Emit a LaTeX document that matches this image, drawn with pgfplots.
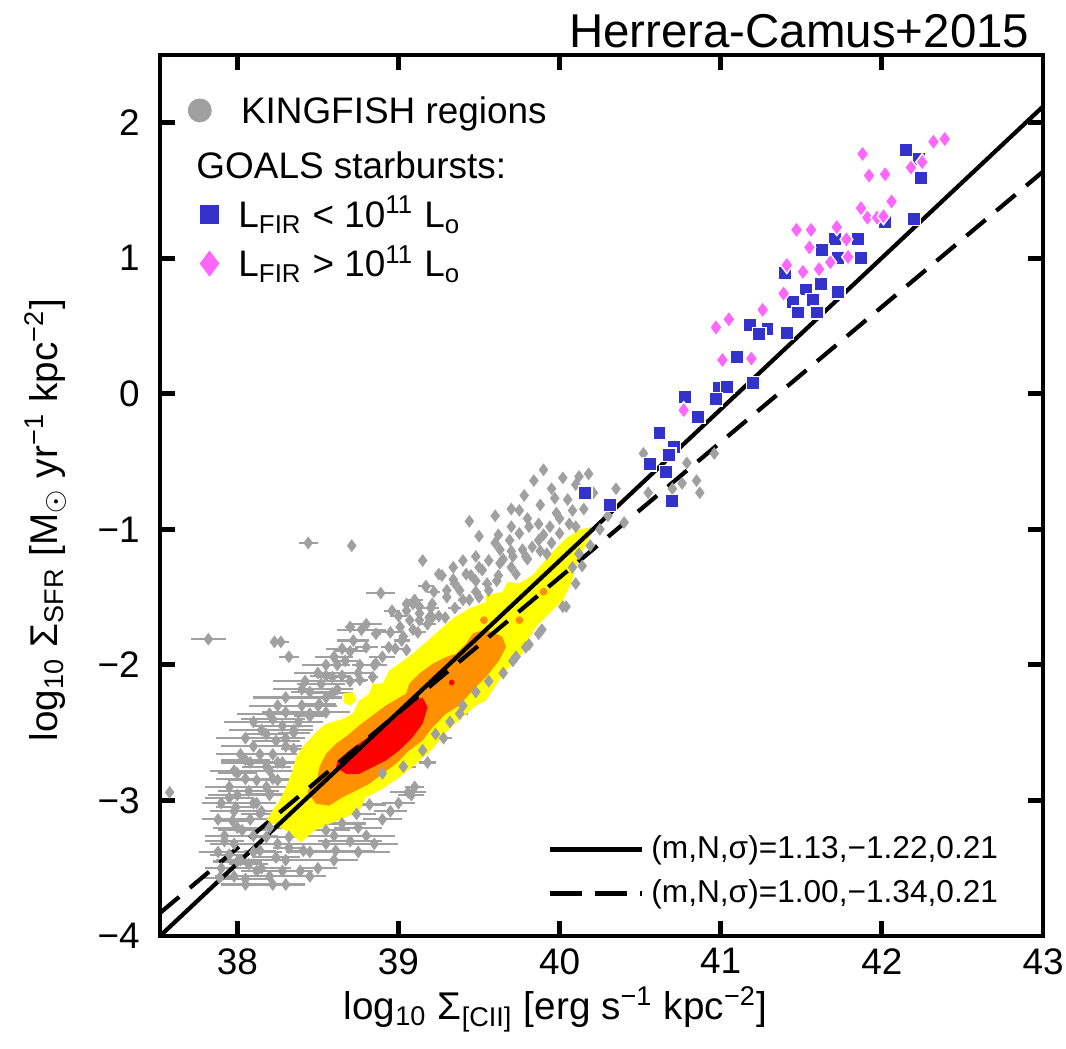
\documentclass[border=0pt]{standalone}
\usepackage{pgfplots}
\pgfplotsset{compat=1.18}
\usepackage{pgfplotstable}
\usepackage{fontspec}
\setmainfont{Liberation Sans}
\definecolor{kgrey}{RGB}{160,160,160}
\definecolor{gblue}{RGB}{51,51,204}
\definecolor{gpink}{RGB}{255,102,255}
\definecolor{cyel}{RGB}{255,255,0}
\definecolor{corange}{RGB}{255,145,0}
\definecolor{cred}{RGB}{255,0,0}

\pgfplotstableread{
x y ex
38.28 -2.45 0.19
38.18 -2.51 0.13
38.24 -2.56 0.15
38.14 -2.66 0.16
38.18 -2.75 0.15
38.12 -2.85 0.18
38.07 -2.93 0.19
37.58 -2.94 0.02
37.99 -3.05 0.12
38.14 -3.10 0.12
37.97 -3.15 0.10
38.03 -3.22 0.15
37.95 -3.40 0.12
38.07 -3.47 0.12
37.89 -3.57 0.10
38.05 -3.58 0.15
38.28 -3.52 0.15
38.39 -3.52 0.08
38.24 -3.42 0.15
38.32 -3.35 0.10
38.61 -3.37 0.24
38.70 -3.30 0.20
38.55 -3.22 0.15
38.65 -3.17 0.15
38.74 -3.10 0.12
38.82 -3.03 0.10
39.06 -2.94 0.11
38.90 -2.80 0.10
39.03 -2.75 0.08
38.18 -3.27 0.10
38.32 -3.27 0.10
38.41 -3.37 0.10
38.14 -3.37 0.10
38.30 -2.35 0.15
38.40 -2.30 0.12
38.22 -2.40 0.20
38.35 -2.62 0.08
38.05 -2.70 0.15
38.00 -2.80 0.12
37.95 -2.98 0.15
38.10 -3.02 0.10
38.20 -2.95 0.12
38.25 -2.85 0.10
38.28 -2.72 0.10
38.45 -2.20 0.12
38.55 -2.08 0.10
38.62 -2.00 0.08
38.70 -1.90 0.10
38.45 -2.38 0.10
38.35 -2.50 0.10
37.92 -3.30 0.12
38.00 -3.45 0.15
38.22 -3.62 0.10
38.12 -3.52 0.10
37.82 -1.81 0.11
38.44 -1.10 0.06
38.71 -1.12 0
38.89 -1.47 0.09
39.15 -1.23 0
39.17 -1.42 0.05
38.27 -1.83 0.05
38.23 -1.83 0.02
38.32 -1.94 0.06
39.27 -1.34 0
39.34 -1.37 0
39.30 -1.45 0
38.96 -1.60 0.05
39.09 -1.55 0
39.05 -1.55 0
38.70 -1.72 0.03
38.77 -1.74 0.15
38.86 -1.77 0.03
39.01 -1.72 0
39.13 -1.62 0
39.21 -1.65 0
39.29 -1.65 0
38.80 -1.87 0.07
38.94 -1.87 0.05
39.05 -1.89 0.03
38.67 -1.97 0.08
38.76 -2.00 0.05
38.86 -1.99 0.03
38.59 -2.09 0.10
38.65 -2.08 0.05
38.52 -2.14 0.15
38.76 -2.11 0.05
38.84 -2.09 0.03
38.59 -2.21 0.12
38.51 -2.29 0.10
38.55 -2.35 0.15
39.15 -2.63 0.05
39.23 -2.51 0
39.32 -2.42 0.04
39.40 -2.30 0
39.48 -2.20 0
39.56 -2.12 0
39.65 -2.06 0
39.73 -1.94 0
39.81 -1.85 0
39.89 -1.74 0
40.02 -1.57 0
40.10 -1.40 0
40.14 -1.27 0
40.19 -1.12 0
39.87 -1.77 0
39.79 -1.87 0
39.71 -1.97 0
39.44 -0.94 0
39.50 -1.05 0
39.69 -1.08 0
39.75 -1.03 0
39.81 -0.98 0
39.87 -0.96 0
39.94 -0.98 0
40.00 -1.03 0
40.06 -0.96 0
39.63 -1.15 0
39.56 -1.23 0
39.63 -1.25 0
39.71 -1.20 0
39.77 -1.15 0
39.83 -1.13 0
39.87 -1.08 0
39.92 -1.18 0
39.48 -1.20 0
39.40 -1.23 0
39.34 -1.28 0
39.25 -1.33 0
39.17 -1.42 0.04
39.42 -1.33 0
39.48 -1.38 0
39.52 -1.30 0
39.61 -1.38 0
39.38 -1.45 0
39.30 -1.50 0
39.21 -1.55 0
39.13 -1.57 0
39.05 -1.60 0
39.07 -1.67 0
39.13 -1.67 0
39.19 -1.65 0
39.09 -1.74 0
39.03 -1.79 0
39.44 -1.52 0
39.50 -1.50 0
39.56 -1.45 0
39.79 -1.20 0
39.73 -1.33 0
40.12 -1.18 0
40.08 -1.28 0
40.04 -1.57 0
39.90 -0.56 0
39.84 -0.64 0
39.95 -0.70 0
39.78 -0.75 0
39.70 -0.85 0
39.60 -0.90 0
40.02 -0.62 0
39.88 -0.82 0
40.52 -0.44 0
40.18 -0.59 0
40.12 -0.61 0
40.10 -0.67 0
40.21 -0.73 0
40.85 -0.64 0
40.87 -0.73 0
40.96 -0.44 0
40.79 -0.51 0
40.76 -0.66 0
40.70 -0.70 0
40.55 -0.73 0
40.68 -0.80 0
39.97 -0.77 0
40.05 -0.78 0
40.40 -0.95 0
40.30 -0.90 0
40.25 -1.00 0
39.98 -0.88 0
40.15 -0.85 0
40.35 -0.70 0
38.05 -3.62 0.15
38.30 -3.62 0.12
37.98 -3.56 0.12
38.20 -3.56 0.15
38.45 -3.56 0.10
37.90 -3.50 0.10
38.15 -3.50 0.18
38.50 -3.50 0.12
38.02 -3.44 0.15
38.30 -3.44 0.20
38.60 -3.44 0.15
37.88 -3.38 0.12
38.10 -3.38 0.18
38.45 -3.38 0.15
38.75 -3.38 0.20
37.98 -3.32 0.15
38.25 -3.32 0.18
38.55 -3.32 0.20
38.85 -3.32 0.15
37.92 -3.26 0.12
38.10 -3.26 0.15
38.60 -3.26 0.20
38.80 -3.26 0.18
38.00 -3.20 0.15
38.20 -3.20 0.12
38.75 -3.20 0.15
37.88 -3.14 0.10
38.08 -3.14 0.12
38.90 -3.14 0.12
37.98 -3.08 0.15
38.15 -3.08 0.10
38.95 -3.08 0.10
37.90 -3.02 0.12
38.12 -3.02 0.12
39.00 -3.02 0.10
38.00 -2.96 0.18
38.20 -2.96 0.10
39.08 -2.96 0.08
37.95 -2.90 0.15
38.18 -2.90 0.12
39.10 -2.90 0.06
38.05 -2.84 0.18
38.22 -2.84 0.10
37.98 -2.78 0.15
38.20 -2.78 0.15
38.08 -2.72 0.18
38.25 -2.72 0.10
39.18 -2.72 0.05
38.02 -2.66 0.15
38.22 -2.66 0.15
38.10 -2.60 0.20
38.30 -2.60 0.10
38.05 -2.54 0.18
38.30 -2.54 0.12
39.28 -2.54 0.05
38.15 -2.48 0.20
38.35 -2.48 0.12
38.10 -2.42 0.18
38.38 -2.42 0.15
38.20 -2.36 0.20
38.45 -2.36 0.12
39.38 -2.36 0.05
38.25 -2.30 0.18
38.50 -2.30 0.12
38.30 -2.24 0.20
38.55 -2.24 0.10
38.40 -2.18 0.18
38.62 -2.18 0.10
38.42 -2.12 0.20
38.70 -2.12 0.10
38.50 -2.06 0.15
38.75 -2.06 0.10
38.55 -2.00 0.15
38.85 -2.00 0.08
38.60 -1.94 0.12
38.90 -1.94 0.08
38.65 -1.88 0.10
38.98 -1.88 0.06
38.72 -1.82 0.10
39.02 -1.82 0.05
38.95 -1.76 0.08
39.12 -1.76 0.05
38.80 -1.70 0.10
39.18 -1.70 0.05
39.00 -1.64 0.05
39.25 -1.64 0.04
39.20 -1.58 0.05
39.35 -1.58 0.04
39.10 -1.52 0.05
39.40 -1.52 0.03
39.22 -1.46 0.04
39.48 -1.46 0.03
39.35 -1.40 0.03
39.55 -1.40 0.03
39.45 -1.34 0.03
39.62 -1.34 0.02
39.50 -1.28 0
39.70 -1.28 0
39.65 -1.22 0
39.80 -1.22 0
39.70 -1.16 0
39.88 -1.16 0
39.60 -1.10 0
39.95 -1.10 0
39.62 -1.04 0
39.90 -1.04 0
39.70 -0.98 0
40.10 -0.98 0
39.80 -0.92 0
40.00 -0.92 0
39.75 -0.86 0
40.08 -0.86 0
}\greydata

\begin{document}
\begin{tikzpicture}
\useasboundingbox (-16mm,-11.3mm) rectangle (90.6mm,93.6mm);
\begin{axis}[
  at={(0,0)}, anchor=south west,
  width=88.3mm, height=88.1mm, scale only axis,
  xmin=37.52, xmax=43, ymin=-4, ymax=2.5,
  xtick={38,39,40,41,42,43}, ytick={-4,-3,-2,-1,0,1,2},
  xticklabels={38,39,40,41,42,43},
  yticklabels={−4,−3,−2,−1,0,1,2},
  axis line style={line width=1.4pt},
  tick style={line width=1.4pt, black},
  major tick length=1.5mm,
  tick align=inside,
  ticklabel style={font=\fontsize{10.5}{12}\selectfont},
  yticklabel style={xshift=-0.8mm},
  label style={font=\fontsize{11}{13}\selectfont},
  xlabel={log\textsubscript{10} Σ\textsubscript{[CII]} [erg s\textsuperscript{−1} kpc\textsuperscript{−2}]},
  ylabel={log\textsubscript{10} Σ\textsubscript{SFR} [M\textsubscript{$\odot$} yr\textsuperscript{−1} kpc\textsuperscript{−2}]},
  xlabel style={at={(axis description cs:0.448,-0.095)}, anchor=base},
  ylabel style={at={(axis description cs:-0.13,0.472)}, anchor=center},
  legend style={at={(rel axis cs:0.0213,0.897)}, anchor=north west, draw=none, fill=none,
    font=\fontsize{10.5}{12}\selectfont, row sep=1.2mm, inner sep=0pt,
    nodes={inner sep=0pt}},
  legend cell align=left,
]
\addplot[only marks, mark=diamond*, mark size=1.5pt, color=kgrey, forget plot,
  error bars/.cd, x dir=both, x explicit, error mark=none,
  error bar style={kgrey, line width=0.6pt}]
  table[x=x, y=y, x error=ex] {\greydata};

% density contours
\addplot[fill=cyel, draw=none, forget plot] coordinates {
(38.178,-3.149) (38.302,-3.222) (38.395,-3.309) (38.478,-3.222) (38.571,-3.173)
(38.674,-3.124) (38.757,-3.075) (38.798,-2.976) (38.901,-2.914) (39.005,-2.829)
(39.109,-2.730) (39.212,-2.619) (39.295,-2.496) (39.398,-2.385) (39.481,-2.300)
(39.543,-2.262) (39.625,-2.114) (39.687,-2.015) (39.770,-1.917) (39.801,-1.818)
(39.853,-1.720) (39.935,-1.621) (40.018,-1.523) (40.070,-1.399) (40.101,-1.276)
(40.142,-1.166) (40.184,-1.055) (40.215,-0.981)
(40.122,-1.000) (40.039,-1.067) (39.956,-1.166) (39.894,-1.252) (39.832,-1.338)
(39.749,-1.399) (39.677,-1.387) (39.646,-1.461) (39.543,-1.486) (39.543,-1.535)
(39.439,-1.584) (39.336,-1.658) (39.253,-1.744) (39.171,-1.831) (39.088,-1.917)
(39.005,-1.991) (38.943,-2.040) (38.901,-2.138) (38.839,-2.138) (38.819,-2.212)
(38.757,-2.262) (38.715,-2.360) (38.653,-2.400) (38.550,-2.434) (38.488,-2.496)
(38.405,-2.607) (38.364,-2.681) (38.343,-2.779) (38.302,-2.903) (38.261,-3.001)
(38.219,-3.075)} -- cycle;
\addplot[fill=cyel, draw=none, forget plot] coordinates {
(38.66,-2.21) (38.72,-2.20) (38.74,-2.26) (38.70,-2.30) (38.66,-2.28)} -- cycle;
\addplot[fill=corange, draw=none, forget plot] coordinates {
(38.436,-2.939) (38.488,-3.025) (38.571,-3.038) (38.653,-2.976) (38.736,-2.927)
(38.819,-2.877) (38.901,-2.803) (38.984,-2.730) (39.067,-2.631) (39.150,-2.557)
(39.212,-2.459) (39.295,-2.360) (39.377,-2.300) (39.460,-2.188) (39.543,-2.089)
(39.625,-1.966) (39.667,-1.868) (39.646,-1.794) (39.584,-1.757) (39.522,-1.744)
(39.460,-1.769) (39.419,-1.843) (39.357,-1.917) (39.295,-1.942) (39.212,-1.991)
(39.129,-2.064) (39.067,-2.138) (39.047,-2.212) (38.922,-2.299) (38.839,-2.373)
(38.757,-2.446) (38.684,-2.520) (38.612,-2.582) (38.550,-2.656) (38.509,-2.755)
(38.498,-2.829) (38.447,-2.903)} -- cycle;
\addplot[only marks, mark=*, mark size=0.9pt, color=corange, forget plot] coordinates {
(39.53,-1.67) (39.75,-1.67) (39.90,-1.46)};
\addplot[fill=cred, draw=none, forget plot] coordinates {
(38.622,-2.705) (38.695,-2.631) (38.798,-2.545) (38.901,-2.459) (39.005,-2.360)
(39.067,-2.274) (39.150,-2.242) (39.181,-2.311) (39.150,-2.434) (39.088,-2.533)
(39.005,-2.631) (38.922,-2.705) (38.839,-2.755) (38.757,-2.803) (38.674,-2.803)
(38.612,-2.755)} -- cycle;
\addplot[only marks, mark=*, mark size=0.6pt, color=cred, forget plot] coordinates {(39.33,-2.13)};

% fits
\addplot[black, line width=1.2pt, forget plot] coordinates {(37.52,-4.0) (43,2.12)};
\addplot[black, line width=1.2pt, dash pattern=on 2.5mm off 1.4mm, forget plot] coordinates {(37.52,-3.83) (43,1.64)};

% GOALS
\addplot[only marks, mark=square*, mark size=1.9pt, forget plot,
  mark options={fill=gblue, draw=white, line width=0.4pt}] coordinates {
(42.15,1.80) (42.23,1.73) (42.24,1.59) (42.20,1.29) (42.02,1.27) (41.85,1.14) (41.71,1.14)
(41.87,1.00) (41.63,1.06) (41.73,1.00) (41.40,0.89) (41.62,0.81) (41.73,0.75)
(41.53,0.77) (41.45,0.68) (41.57,0.69) (41.48,0.60) (41.60,0.60) (41.18,0.51)
(41.29,0.48) (41.41,0.45) (41.24,0.44) (41.10,0.27) (41.20,0.08) (40.99,0.04)
(41.04,0.05) (40.97,-0.04) (40.78,-0.02) (40.86,-0.17) (40.62,-0.29) (40.71,-0.39)
(40.68,-0.45) (40.56,-0.52) (40.66,-0.58) (40.16,-0.73) (40.31,-0.82) (40.70,-0.79)};
\addplot[only marks, mark=diamond*, mark size=2.4pt, forget plot,
  mark options={fill=gpink, draw=white, line width=0.4pt}] coordinates {
(42.32,1.86) (42.39,1.88) (41.88,1.77) (41.92,1.61) (42.02,1.62) (42.18,1.67)
(42.25,1.71) (42.06,1.42) (41.87,1.37) (41.91,1.30) (41.97,1.30) (42.01,1.31)
(41.47,1.21) (41.56,1.21) (41.72,1.23) (41.78,1.14) (41.55,1.08) (41.68,0.97)
(41.79,1.01) (41.41,0.95) (41.51,0.90) (41.61,0.92) (41.39,0.74) (41.26,0.62)
(40.97,0.49) (41.05,0.55) (41.01,0.25) (41.19,0.26) (40.77,-0.12)};

\addlegendimage{empty legend}
\addlegendentry{\hspace*{-2.2mm}\rule[-1.6mm]{0pt}{4.8mm}GOALS starbursts:}
\addlegendimage{only marks, mark=square*, mark size=2.5pt, gblue}
\addlegendentry{\hspace*{2mm}\rule[-1.6mm]{0pt}{4.8mm}\smash{L\textsubscript{FIR} < 10\textsuperscript{11} L\textsubscript{o}}}
\addlegendimage{only marks, mark=diamond*, mark size=3.4pt, gpink}
\addlegendentry{\hspace*{2mm}\rule[-1.6mm]{0pt}{4.8mm}\smash{L\textsubscript{FIR} > 10\textsuperscript{11} L\textsubscript{o}}}
\end{axis}
\begin{axis}[
  at={(0,0)}, anchor=south west,
  width=88.3mm, height=88.1mm, scale only axis, hide axis,
  xmin=0, xmax=1, ymin=0, ymax=1,
  legend style={at={(rel axis cs:0.0315,0.959)}, anchor=north west, draw=none, fill=none,
    font=\fontsize{10.5}{12}\selectfont, row sep=0pt, inner sep=0pt,
    nodes={inner sep=0pt}},
  legend cell align=left,
]
\addlegendimage{only marks, mark=*, mark size=3.2pt, kgrey}
\addlegendentry{\hspace*{3mm}\rule[-2.3mm]{0pt}{5.5mm}KINGFISH regions}
\end{axis}
\begin{axis}[
  at={(0,0)}, anchor=south west,
  width=88.3mm, height=88.1mm, scale only axis, hide axis,
  xmin=0, xmax=1, ymin=0, ymax=1,
  legend style={at={(rel axis cs:0.438,0.123)}, anchor=north west, draw=none, fill=none,
    font=\fontsize{9}{11}\selectfont, row sep=0.2mm, inner sep=0pt},
  legend image code/.code={\draw[#1] (0mm,0mm) -- (9.2mm,0mm);},
  legend cell align=left,
]
\addlegendimage{black, line width=1.4pt}
\addlegendentry{(m,N,σ)=1.13,−1.22,0.21}
\addlegendimage{black, line width=1.4pt, dash pattern=on 3.2mm off 1.3mm}
\addlegendentry{(m,N,σ)=1.00,−1.34,0.21}
\end{axis}
\node[anchor=base east, inner sep=0pt, font=\fontsize{13.5}{16}\selectfont] at (87mm,88.8mm) {Herrera-Camus+2015};
\end{tikzpicture}
\end{document}
